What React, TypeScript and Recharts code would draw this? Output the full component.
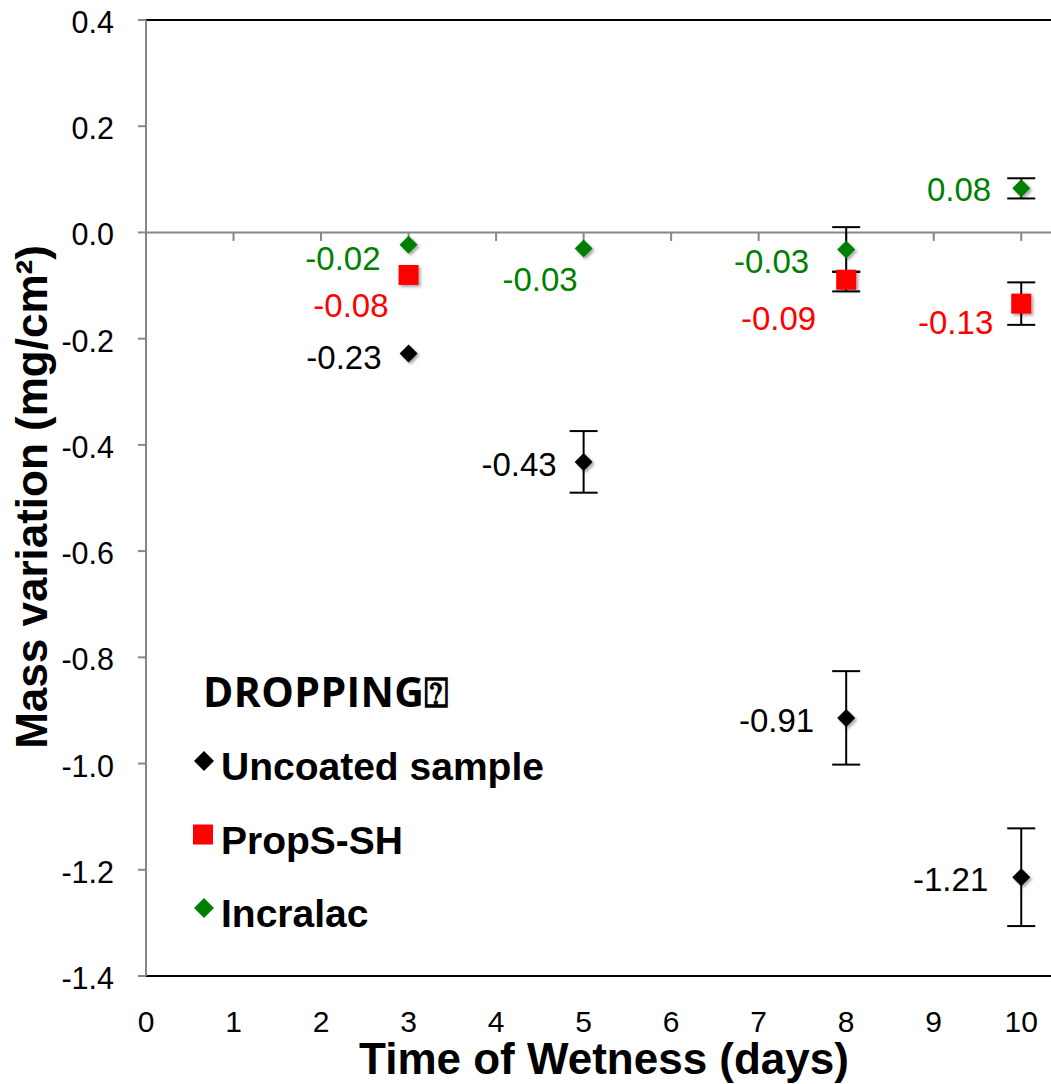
import React from 'react';
import { ScatterChart, Scatter, XAxis, YAxis, ErrorBar, ReferenceLine, Legend } from 'recharts';

// ---------- data ----------
const days = [3, 5, 8, 10];
const propsDays = [3, 8, 10];

const uncoatedValues = [-0.228, -0.432, -0.914, -1.214];
const uncoatedErrors: (number | number[])[] = [0, 0.058, 0.088, 0.092];

const propsValues = [-0.08, -0.089, -0.134];
// [below, above]
const propsErrors: (number | number[])[] = [0, [0.022, 0.015], 0.04];

const incralacValues = [-0.023, -0.03, -0.032, 0.083];
const incralacErrors: (number | number[])[] = [0, 0, 0.042, 0.019];

const xTicks = [0, 1, 2, 3, 4, 5, 6, 7, 8, 9, 10];
const yTicks = [-1.4, -1.2, -1.0, -0.8, -0.6, -0.4, -0.2, 0.0, 0.2, 0.4];

const seriesNames = ['Uncoated sample', 'PropS-SH', 'Incralac'];
const legendTitle = 'DROPPING\u2370';
const xTitle = 'Time of Wetness (days)';
const yTitle = 'Mass variation (mg/cm\u00B2)';

// ---------- build rows ----------
const build = (xs: number[], ys: number[], es: (number | number[])[]) =>
  xs.map((x, i) => ({ x, y: ys[i], err: es[i] }));

const uncoatedData = build(days, uncoatedValues, uncoatedErrors);
const propsData = build(propsDays, propsValues, propsErrors);
const incralacData = build(days, incralacValues, incralacErrors);

// ---------- styles ----------
const FONT = '"Liberation Sans", Arial, Helvetica, sans-serif';
const BLACK = '#000000';
const RED = '#ff0000';
const GREEN = '#008000';
const GRAY = '#878787';

const LABEL_POS: Record<string, Record<number, [number, number]>> = {
  uncoated: { 3: [-27, 15], 5: [-27, 14], 8: [-32, 14], 10: [-33, 14] },
  props: { 3: [-20, 42], 8: [-30, 50], 10: [-28, 30] },
  incralac: { 3: [-28, 25], 5: [-6, 43], 8: [-37, 24], 10: [-30, 13] },
};

const diamondPath = (cx: number, cy: number, r: number) =>
  `M${cx},${cy - r}L${cx + r},${cy}L${cx},${cy + r}L${cx - r},${cy}Z`;

const makeShape = (kind: 'diamond' | 'square', color: string, key: string) => (p: any) => {
  const { cx, cy, payload } = p;
  if (cx == null || cy == null) return <g />;
  const pos = LABEL_POS[key][payload.x] || [-28, 12];
  const marker =
    kind === 'square' ? (
      <rect x={cx - 10} y={cy - 10} width={20} height={20} fill={color} />
    ) : (
      <path d={diamondPath(cx, cy, 9)} fill={color} />
    );
  return (
    <g>
      <g filter="url(#mshadow)">{marker}</g>
      <text
        x={cx + pos[0]}
        y={cy + pos[1]}
        textAnchor="end"
        fill={color}
        fontSize={33}
        fontFamily={FONT}
      >
        {Number(payload.y).toFixed(2)}
      </text>
    </g>
  );
};

const XTick = (p: any) => (
  <text x={p.x} y={p.y + 56} textAnchor="middle" fontSize={30} fontFamily={FONT} fill={BLACK}>
    {p.payload.value}
  </text>
);

const YTick = (p: any) => (
  <text x={p.x - 24} y={p.y + 13} textAnchor="end" fontSize={30.5} fontFamily={FONT} fill={BLACK}>
    {Number(p.payload.value).toFixed(1)}
  </text>
);

const LegendContent = (props: any) => {
  const raw = props.payload || [];
  const items = seriesNames
    .map((n) => raw.find((it: any) => it.value === n))
    .filter(Boolean);
  return (
    <svg
      width={1051}
      height={1084}
      style={{ position: 'absolute', left: 0, top: 0, pointerEvents: 'none', overflow: 'visible' }}
    >
      <text
        x={203}
        y={707}
        fontFamily='"Open Sans", "DejaVu Sans", sans-serif'
        fontWeight={700}
        fontSize={41}
        letterSpacing={0.4}
        fill={BLACK}
      >
        {legendTitle}
      </text>
      {items.map((item: any, i: number) => {
        const base = 780 + 73.5 * i;
        const my = base - 19;
        const color = item.color;
        return (
          <g key={i}>
            {item.value === seriesNames[1] ? (
              <rect x={203 - 10} y={my - 10} width={20} height={20} fill={color} />
            ) : (
              <path d={diamondPath(204, my, 10)} fill={color} />
            )}
            <text x={221} y={base} fontFamily={FONT} fontWeight={700} fontSize={39} fill={BLACK}>
              {item.value}
            </text>
          </g>
        );
      })}
    </svg>
  );
};

export default function App() {
  const redZ: any = { zIndex: 700 };
  const redBarZ: any = { zIndex: 650 };
  return (
    <div style={{ position: 'absolute', left: 0, top: 0, width: 1051, height: 1084, background: '#fff' }}>
      <svg width={0} height={0} style={{ position: 'absolute' }}>
        <defs>
          <filter id="mshadow" x="-60%" y="-60%" width="220%" height="220%">
            <feGaussianBlur in="SourceGraphic" stdDeviation="0.7" result="soft" />
            <feGaussianBlur in="SourceAlpha" stdDeviation="1.8" result="blur" />
            <feOffset in="blur" dx="1.5" dy="1.5" result="off" />
            <feComponentTransfer in="off" result="shadow">
              <feFuncA type="linear" slope="0.35" />
            </feComponentTransfer>
            <feMerge>
              <feMergeNode in="shadow" />
              <feMergeNode in="soft" />
            </feMerge>
          </filter>
        </defs>
      </svg>
      <ScatterChart
        width={1051}
        height={1084}
        margin={{ top: 20, right: 0, bottom: 0, left: 0 }}
        style={{ fontFamily: FONT }}
      >
        <XAxis
          type="number"
          dataKey="x"
          domain={[0, 10.34]}
          allowDataOverflow
          ticks={xTicks}
          interval={0}
          height={108}
          tickLine={false}
          tickSize={0}
          tickMargin={0}
          axisLine={{ stroke: BLACK, strokeWidth: 2 }}
          tick={<XTick />}
          label={() => (
            <text
              x={604}
              y={1074}
              textAnchor="middle"
              fontFamily={FONT}
              fontWeight={700}
              fontSize={44}
              fill={BLACK}
            >
              {xTitle}
            </text>
          )}
        />
        <YAxis
          type="number"
          dataKey="y"
          domain={[-1.4, 0.4]}
          allowDataOverflow
          ticks={yTicks}
          interval={0}
          width={146}
          tickSize={8}
          tickMargin={0}
          tickLine={{ stroke: GRAY, strokeWidth: 2 }}
          axisLine={{ stroke: GRAY, strokeWidth: 2 }}
          tick={<YTick />}
          label={() => (
            <text
              x={47}
              y={497}
              transform="rotate(-90, 47, 497)"
              textAnchor="middle"
              fontFamily={FONT}
              fontWeight={700}
              fontSize={44}
              fill={BLACK}
            >
              {yTitle}
            </text>
          )}
        />
        <ReferenceLine y={0.4} stroke={BLACK} strokeWidth={2} ifOverflow="visible" />
        <ReferenceLine y={0} stroke={GRAY} strokeWidth={2} />
        {xTicks.slice(1).map((t) => (
          <ReferenceLine
            key={t}
            segment={[
              { x: t, y: 0 },
              { x: t, y: -0.016 },
            ]}
            stroke={GRAY}
            strokeWidth={2}
            ifOverflow="visible"
          />
        ))}
        <Legend
          layout="horizontal"
          verticalAlign="middle"
          align="center"
          wrapperStyle={{ position: 'absolute', left: 0, top: 0, width: 1051, height: 1084, pointerEvents: 'none' }}
          content={<LegendContent />}
        />
        <Scatter
          name={seriesNames[0]}
          data={uncoatedData}
          fill={BLACK}
          isAnimationActive={false}
          shape={makeShape('diamond', BLACK, 'uncoated')}
        >
          <ErrorBar dataKey="err" direction="y" width={14} stroke={BLACK} strokeWidth={2} />
        </Scatter>
        <Scatter
          name={seriesNames[2]}
          data={incralacData}
          fill={GREEN}
          isAnimationActive={false}
          shape={makeShape('diamond', GREEN, 'incralac')}
        >
          <ErrorBar dataKey="err" direction="y" width={14} stroke={BLACK} strokeWidth={2} />
        </Scatter>
        <Scatter
          name={seriesNames[1]}
          data={propsData}
          fill={RED}
          isAnimationActive={false}
          shape={makeShape('square', RED, 'props')}
          {...redZ}
        >
          <ErrorBar dataKey="err" direction="y" width={14} stroke={BLACK} strokeWidth={2} {...redBarZ} />
        </Scatter>
      </ScatterChart>
    </div>
  );
}
